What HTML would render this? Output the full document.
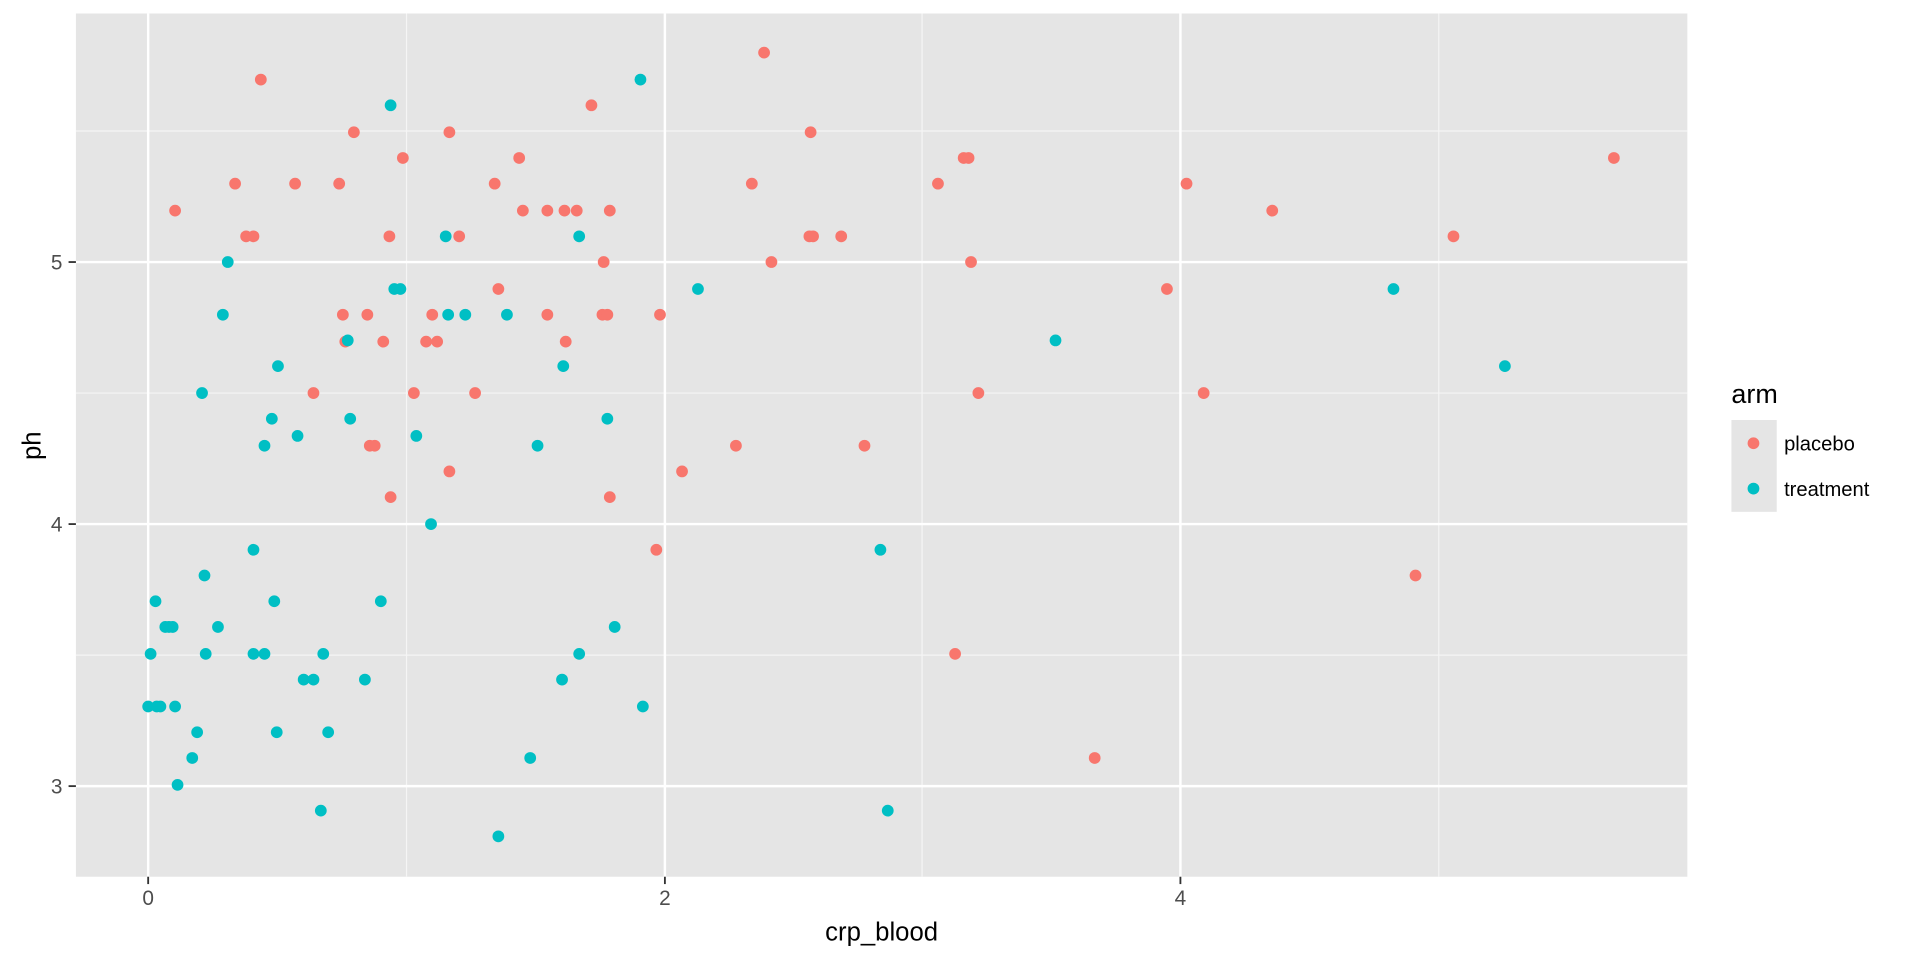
<!DOCTYPE html>
<html><head><meta charset="utf-8"><style>html,body{margin:0;padding:0;background:#fff}svg{display:block}</style></head>
<body>
<svg width="1920" height="960" viewBox="0 0 1568 784" xmlns="http://www.w3.org/2000/svg" font-family="Liberation Sans, sans-serif">
<rect x="62" y="11" width="1316" height="705" fill="#E5E5E5"/>
<g stroke="#F5F5F5" stroke-width="1">
<line x1="62" x2="1378" y1="107" y2="107"/><line x1="62" x2="1378" y1="321" y2="321"/><line x1="62" x2="1378" y1="535" y2="535"/>
<line y1="11" y2="716" x1="332" x2="332"/><line y1="11" y2="716" x1="753" x2="753"/><line y1="11" y2="716" x1="1175" x2="1175"/>
</g>
<g stroke="#FFFFFF" stroke-width="2">
<line x1="62" x2="1378" y1="214" y2="214"/><line x1="62" x2="1378" y1="428" y2="428"/><line x1="62" x2="1378" y1="642" y2="642"/>
<line y1="11" y2="716" x1="121" x2="121"/><line y1="11" y2="716" x1="543" x2="543"/><line y1="11" y2="716" x1="964" x2="964"/>
</g>
<g fill="#F8766D" id="r"></g>
<g fill="#00BFC4" id="t"></g>
<g stroke="#333" stroke-width="1.5">
<line x1="56" x2="62" y1="214" y2="214"/><line x1="56" x2="62" y1="428" y2="428"/><line x1="56" x2="62" y1="642" y2="642"/>
<line y1="716" y2="722" x1="121" x2="121"/><line y1="716" y2="722" x1="543" x2="543"/><line y1="716" y2="722" x1="964" x2="964"/>
</g>
<g fill="#4D4D4D" font-size="17">
<text x="51" y="220" text-anchor="end">5</text><text x="51" y="434" text-anchor="end">4</text><text x="51" y="648" text-anchor="end">3</text>
<text x="121" y="739" text-anchor="middle">0</text><text x="543" y="739" text-anchor="middle">2</text><text x="964" y="739" text-anchor="middle">4</text>
</g>
<text x="720" y="768" text-anchor="middle" font-size="21">crp_blood</text>
<text transform="translate(33,364) rotate(-90)" text-anchor="middle" font-size="21">ph</text>
<text x="1414" y="329" font-size="22">arm</text>
<rect x="1414" y="343" width="37" height="75" fill="#E5E5E5"/>
<circle cx="1432" cy="362" r="4.8" fill="#F8766D"/><circle cx="1432" cy="399" r="4.8" fill="#00BFC4"/>
<text x="1457" y="368" font-size="16.5">placebo</text><text x="1457" y="405" font-size="16.5">treatment</text>
</svg>
<script>
var R=[[143,172],[192,150],[201,193],[207,193],[213,65],[241,150],[256,321],[277,150],[280,257],[282,279],[289,108],[300,257],[302,364],[306,364],[313,279],[318,193],[319,406],[329,129],[338,321],[348,279],[353,257],[357,279],[367,108],[367,385],[375,193],[388,321],[404,150],[407,236],[424,129],[427,172],[447,172],[447,257],[461,172],[462,279],[471,172],[483,86],[493,214],[492,257],[496,257],[498,172],[498,406],[536,449],[539,257],[557,385],[601,364],[614,150],[624,43],[630,214],[661,193],[664,193],[662,108],[687,193],[706,364],[766,150],[780,534],[787,129],[791,129],[793,214],[799,321],[894,619],[953,236],[969,150],[983,321],[1039,172],[1156,470],[1187,193],[1318,129]];
var T=[[121,577],[123,534],[127,491],[128,577],[131,577],[135,512],[138,512],[141,512],[143,577],[145,641],[157,619],[161,598],[165,321],[167,470],[168,534],[178,512],[182,257],[186,214],[207,449],[207,534],[216,364],[216,534],[222,342],[224,491],[227,299],[226,598],[243,356],[248,555],[256,555],[264,534],[262,662],[268,598],[286,342],[284,278],[298,555],[311,491],[319,86],[322,236],[327,236],[340,356],[352,428],[364,193],[366,257],[380,257],[407,683],[414,257],[433,619],[439,364],[459,555],[460,299],[473,193],[473,534],[496,342],[502,512],[523,65],[525,577],[570,236],[719,449],[725,662],[862,278],[1138,236],[1229,299]];
function d(id,a){var g=document.getElementById(id),s='';a.forEach(function(p){s+='<circle cx="'+p[0]+'" cy="'+p[1]+'" r="4.8"/>';});g.innerHTML=s;}
d('r',R);d('t',T);
</script>
</body></html>
